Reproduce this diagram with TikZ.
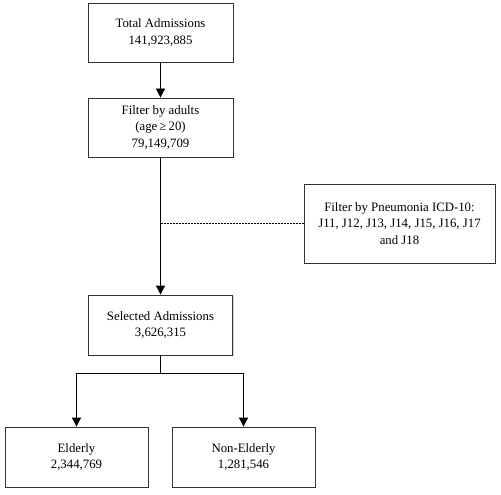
\documentclass[tikz,border=0pt]{standalone}
\usepackage{fontspec}
\setmainfont{Liberation Serif}
\usetikzlibrary{arrows.meta,shadows}
\begin{document}
\begin{tikzpicture}[x=1pt,y=-1pt,
  box/.style={draw=black!80, line width=0.8pt, fill=white, align=center, inner sep=0pt,
    font=\fontsize{12.8}{16.5}\selectfont,
    drop shadow={shadow xshift=1pt, shadow yshift=-1.2pt, opacity=0.25, fill=black!60}},
  arr/.style={-{Triangle[length=9pt,width=9pt]}, line width=0.8pt},
  ln/.style={line width=0.8pt}]
\useasboundingbox (0,0) rectangle (501,495);
\node[box, minimum width=145pt, minimum height=59pt] (total) at (160.5,32.5) {Total Admissions\\141,923,885};
\node[box, minimum width=145pt, minimum height=59pt] (adult) at (160.5,127.5) {Filter by adults\\(age\,≥\,20)\\79,149,709};
\node[box, minimum width=191pt, minimum height=79pt] (pneu) at (399.5,223.5) {Filter by Pneumonia ICD-10:\\J11, J12, J13, J14, J15, J16, J17\\and J18};
\node[box, minimum width=144pt, minimum height=60pt] (sel) at (160.5,325) {Selected Admissions\\3,626,315};
\node[box, minimum width=143pt, minimum height=60pt] (eld) at (76.5,457) {Elderly\\2,344,769};
\node[box, minimum width=143pt, minimum height=60pt] (non) at (243.5,457) {Non-Elderly\\1,281,546};
\coordinate (mid) at (160.5,223.5);
\coordinate (br) at (160.5,373);
\draw[arr] (total.south) -- (adult.north);
\draw[arr] (adult.south) -- (sel.north);
\draw[ln, dashed, dash pattern=on 2pt off 1pt, line width=0.6pt] (mid) -- (pneu.west);
\draw[ln] (sel.south) -- (br);
\draw[arr] (br) -| (eld.north);
\draw[arr] (br) -| (non.north);
\end{tikzpicture}
\end{document}
